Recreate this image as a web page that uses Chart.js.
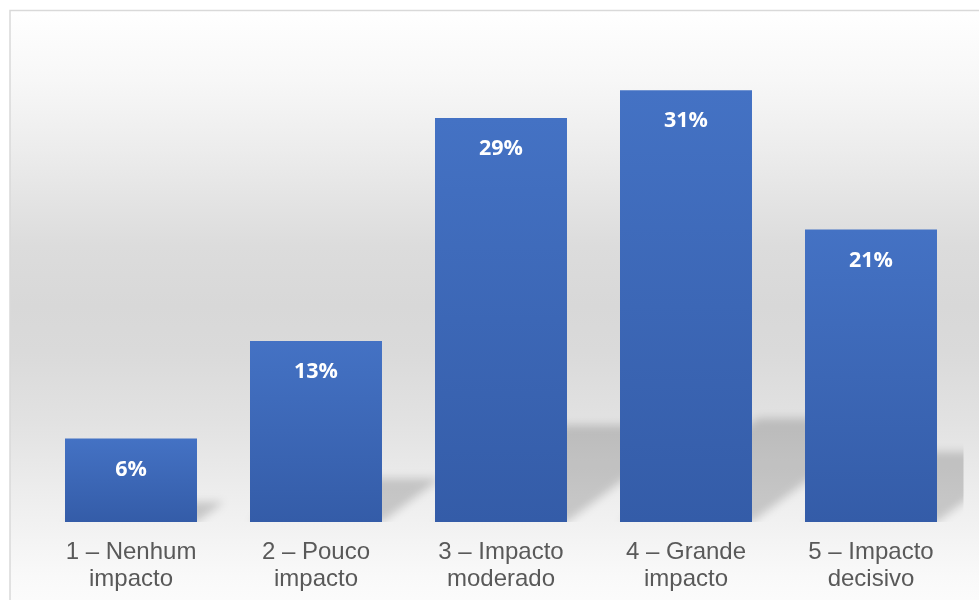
<!DOCTYPE html>
<html>
<head>
<meta charset="utf-8">
<script src="https://cdn.jsdelivr.net/npm/chart.js@4.4.1/dist/chart.umd.min.js"></script>
<style>
  html, body { margin: 0; padding: 0; background: #ffffff; }
  #c { display: block; }
</style>
</head>
<body>
<canvas id="c" width="979" height="600"></canvas>
<script>
// Impact rating categories (two-line tick labels)
const categories = [
  ["1 – Nenhum", "impacto"],
  ["2 – Pouco", "impacto"],
  ["3 – Impacto", "moderado"],
  ["4 – Grande", "impacto"],
  ["5 – Impacto", "decisivo"]
];
// Share of respondents per rating (%)
const shares = [6, 13, 29, 31, 21];
// Value labels printed inside the bars
const valueLabels = ["6%", "13%", "29%", "31%", "21%"];

// Page backdrop: soft vertical grey gradient inside a thin frame
const backdrop = {
  id: 'backdrop',
  beforeDraw(chart) {
    const { ctx, width, height } = chart;
    ctx.save();
    ctx.fillStyle = '#ffffff';
    ctx.fillRect(0, 0, width, height);
    const g = ctx.createLinearGradient(0, 10, 0, height);
    g.addColorStop(0.00, '#ffffff');
    g.addColorStop(0.12, '#f7f7f7');
    g.addColorStop(0.24, '#ececec');
    g.addColorStop(0.40, '#dcdcdc');
    g.addColorStop(0.50, '#d8d8d8');
    g.addColorStop(0.58, '#dadada');
    g.addColorStop(0.70, '#e2e2e2');
    g.addColorStop(0.83, '#eeeeee');
    g.addColorStop(0.96, '#f9f9f9');
    g.addColorStop(1.00, '#fbfbfb');
    ctx.fillStyle = g;
    ctx.fillRect(10, 10, width - 10, height - 10);
    ctx.strokeStyle = '#d9d9d9';
    ctx.lineWidth = 1.5;
    ctx.strokeRect(10, 10.5, width + 20, height + 20);
    ctx.restore();
  }
};

// Skewed, blurred floor shadow cast behind each bar
const SHADOW_SKEW = 0.32;
const SHADOW_SQUASH = 0.24;
const barShadows = {
  id: 'barShadows',
  beforeDatasetsDraw(chart) {
    const { ctx, chartArea } = chart;
    const meta = chart.getDatasetMeta(0);
    ctx.save();
    ctx.beginPath();
    ctx.rect(chartArea.left, chartArea.top, chartArea.right - chartArea.left, chartArea.bottom - chartArea.top);
    ctx.clip();
    ctx.filter = 'blur(4.5px)';
    ctx.fillStyle = 'rgba(0,0,0,0.17)';
    meta.data.forEach(bar => {
      const { x, y, base, width } = bar.getProps(['x', 'y', 'base', 'width'], true);
      const left = x - width / 2, right = x + width / 2;
      const h = base - y;
      const dx = h * SHADOW_SKEW, dy = h * SHADOW_SQUASH;
      ctx.beginPath();
      ctx.moveTo(left, base);
      ctx.lineTo(right, base);
      ctx.lineTo(right + dx, base - dy);
      ctx.lineTo(left + dx, base - dy);
      ctx.closePath();
      ctx.fill();
    });
    ctx.restore();
  }
};

// White bold value labels near the top of each bar
const valueTags = {
  id: 'valueTags',
  afterDatasetsDraw(chart) {
    const { ctx } = chart;
    const meta = chart.getDatasetMeta(0);
    ctx.save();
    ctx.fillStyle = '#ffffff';
    ctx.font = 'bold 21.5px "Open Sans", "DejaVu Sans", sans-serif';
    ctx.textAlign = 'center';
    ctx.textBaseline = 'middle';
    meta.data.forEach((bar, i) => {
      const { x, y } = bar.getProps(['x', 'y'], true);
      ctx.fillText(valueLabels[i], x, y + 31);
    });
    ctx.restore();
  }
};

function barFill(context) {
  const chart = context.chart;
  if (!chart.chartArea) return '#4472C4';
  const ys = chart.scales.y;
  const top = ys.getPixelForValue(shares[context.dataIndex]);
  const bottom = ys.getPixelForValue(0);
  const g = chart.ctx.createLinearGradient(0, top, 0, bottom);
  g.addColorStop(0, '#4472C4');
  g.addColorStop(1, '#345CA8');
  return g;
}

new Chart(document.getElementById('c'), {
  type: 'bar',
  data: {
    labels: categories,
    datasets: [{
      data: shares,
      backgroundColor: barFill,
      borderWidth: 0,
      barPercentage: 0.7135,
      categoryPercentage: 1
    }]
  },
  options: {
    responsive: false,
    animation: false,
    devicePixelRatio: 1,
    layout: { padding: { left: 38.5, right: 15.5, top: 34.4, bottom: 0 } },
    plugins: {
      legend: { display: false },
      tooltip: { enabled: false },
      title: { display: false }
    },
    scales: {
      x: {
        offset: true,
        grid: { display: false, drawTicks: false },
        border: { display: false },
        ticks: {
          color: '#595959',
          font: { family: '"Liberation Sans", Arial, sans-serif', size: 24, lineHeight: 1.125 },
          padding: 17,
          maxRotation: 0,
          autoSkip: false
        },
        afterFit(scale) { scale.height = 78; }
      },
      y: { display: false, min: 0, max: 35 }
    }
  },
  plugins: [backdrop, barShadows, valueTags]
});
</script>
</body>
</html>
